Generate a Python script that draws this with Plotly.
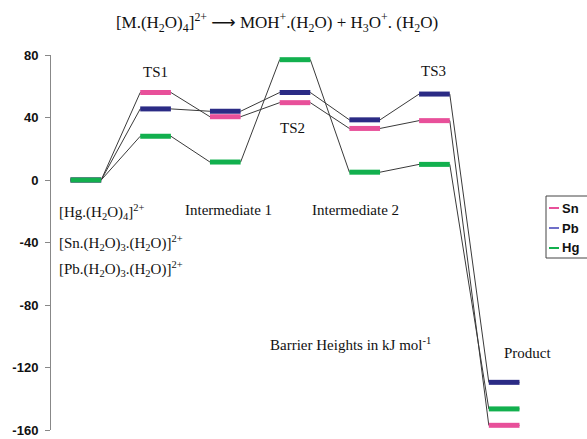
import plotly.graph_objects as go

stages = ["Reactant", "TS1", "Intermediate 1", "TS2", "Intermediate 2", "TS3", "Product"]
series_names = ["Sn", "Pb", "Hg"]
sn = [0, 56, 40.5, 49.5, 33, 38, -157]
pb = [0, 45.5, 44, 56, 38.5, 55, -129.5]
hg = [0, 28, 11.5, 77, 5, 10, -146.5]
colors = {"Sn": "#e8509a", "Pb": "#2b2b85", "Hg": "#12b04e"}
legend_colors = {"Sn": "#e8509a", "Pb": "#6f6fc8", "Hg": "#12b04e"}
values = {"Sn": sn, "Pb": pb, "Hg": hg}
y_ticks = [80, 40, 0, -40, -80, -120, -160]

HALF = 0.22

fig = go.Figure()

# connectors
for name in series_names:
    xs, ys = [], []
    for i, v in enumerate(values[name]):
        xs += [i - HALF, i + HALF]
        ys += [v, v]
    fig.add_trace(go.Scatter(x=xs, y=ys, mode="lines",
                             line=dict(color="#3a3a3a", width=1),
                             showlegend=False, hoverinfo="skip"))
# level bars
for name in series_names:
    xs, ys = [], []
    for i, v in enumerate(values[name]):
        xs += [i - HALF, i + HALF, None]
        ys += [v, v, None]
    fig.add_trace(go.Scatter(x=xs, y=ys, mode="lines", name=name,
                             line=dict(color=colors[name], width=5),
                             showlegend=False))

serif = dict(family="Liberation Serif", size=15, color="#111")

ann = []
def A(x, y, text, xanchor="center", font=serif):
    ann.append(dict(x=x, y=y, xref="x", yref="y", text=text, showarrow=False,
                    xanchor=xanchor, yanchor="middle", font=font))

A(1.0, 69, "TS1")
A(2.96, 33, "TS2")
A(4.99, 70, "TS3")
A(2.04, -19, "Intermediate 1")
A(3.87, -19, "Intermediate 2")
A(6.34, -111, "Product")
A(3.79, -105, "Barrier Heights in kJ mol<sup>-1</sup>")
A(-0.41, -20.5, "[Hg.(H<sub>2</sub>O)<sub>4</sub>]<sup>2+</sup>", xanchor="left")
A(-0.41, -40, "[Sn.(H<sub>2</sub>O)<sub>3</sub>.(H<sub>2</sub>O)]<sup>2+</sup>", xanchor="left")
A(-0.41, -57, "[Pb.(H<sub>2</sub>O)<sub>3</sub>.(H<sub>2</sub>O)]<sup>2+</sup>", xanchor="left")

# manual legend (paper coords)
PX0, PW, PY0, PH = 51, 488, 430, 375
def px(x):
    return (x - PX0) / PW
def py(y):
    return (PY0 - y) / PH

shapes = [dict(type="rect", xref="paper", yref="paper",
               x0=px(546), x1=px(592), y0=py(258), y1=py(196),
               line=dict(color="#444", width=1), fillcolor="white")]
for k, name in enumerate(series_names):
    yy = 208 + 20 * k
    shapes.append(dict(type="line", xref="paper", yref="paper",
                       x0=px(549), x1=px(559), y0=py(yy), y1=py(yy),
                       line=dict(color=legend_colors[name], width=2)))
    ann.append(dict(x=px(560), y=py(yy), xref="paper", yref="paper", text="<b>%s</b>" % name,
                    showarrow=False, xanchor="left", yanchor="middle",
                    font=dict(family="Liberation Sans", size=13, color="#111")))

title_text = ("[M.(H<sub>2</sub>O)<sub>4</sub>]<sup>2+</sup> <span style='font-family:DejaVu Sans'>\u27f6</span> "
              "MOH<sup>+</sup>.(H<sub>2</sub>O) + H<sub>3</sub>O<sup>+</sup>. (H<sub>2</sub>O)")

fig.update_layout(
    width=587, height=439,
    margin=dict(l=51, r=48, t=55, b=9, autoexpand=False),
    paper_bgcolor="white", plot_bgcolor="white",
    title=dict(text=title_text,
               x=277 / 587, xanchor="center", y=1 - 22 / 439, yanchor="middle",
               font=dict(family="Liberation Serif", size=17, color="#111")),
    xaxis=dict(range=[-0.5, 6.5], visible=False, fixedrange=True, automargin=False),
    yaxis=dict(range=[-160, 80], tickvals=y_ticks, ticktext=["<b>%d</b>" % t for t in y_ticks],
               showgrid=False, zeroline=False, showline=True, linecolor="#888", linewidth=1,
               ticks="outside", ticklen=5, tickcolor="#888", automargin=False,
               ticklabelstandoff=4,
               tickfont=dict(family="Liberation Sans", size=13, color="#111")),
    annotations=ann, shapes=shapes, showlegend=False,
)

fig.write_html("out.html", config={"displayModeBar": False},
               post_script="document.body.style.margin='0';document.body.style.overflow='hidden';")
